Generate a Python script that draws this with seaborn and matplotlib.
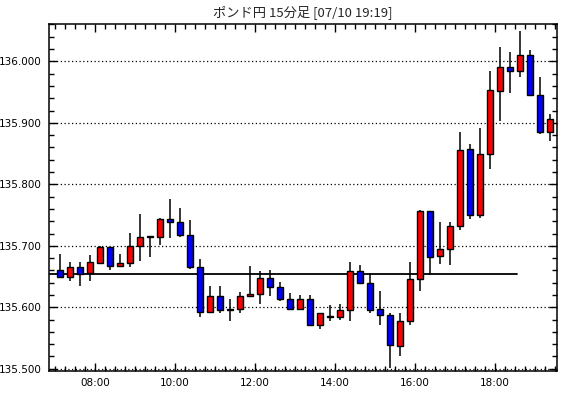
import numpy as np
import pandas as pd
import matplotlib
matplotlib.use("Agg")
import matplotlib.pyplot as plt
from matplotlib.ticker import MultipleLocator, FuncFormatter
import seaborn as sns

# 15-minute candles, 07:00 -> 19:15
opens = [135.661, 135.650, 135.665, 135.655, 135.672, 135.698, 135.667, 135.672, 135.699, 135.715,
         135.715, 135.743, 135.738, 135.717, 135.665, 135.593, 135.619, 135.596, 135.597, 135.619,
         135.621, 135.647, 135.633, 135.613, 135.598, 135.613, 135.572, 135.584, 135.585, 135.595,
         135.659, 135.639, 135.597, 135.587, 135.537, 135.577, 135.646, 135.756, 135.683, 135.694,
         135.733, 135.857, 135.750, 135.850, 135.952, 135.990, 135.985, 136.011, 135.946, 135.885]
highs = [135.687, 135.674, 135.674, 135.685, 135.699, 135.698, 135.687, 135.721, 135.752, 135.716,
         135.745, 135.776, 135.761, 135.742, 135.679, 135.635, 135.635, 135.614, 135.625, 135.667,
         135.659, 135.661, 135.641, 135.623, 135.620, 135.620, 135.591, 135.603, 135.605, 135.674,
         135.668, 135.654, 135.627, 135.590, 135.590, 135.674, 135.758, 135.757, 135.738, 135.738,
         135.885, 135.866, 135.892, 135.984, 136.023, 136.015, 136.049, 136.018, 135.974, 135.915]
lows = [135.647, 135.643, 135.635, 135.642, 135.671, 135.660, 135.665, 135.666, 135.676, 135.682,
        135.701, 135.713, 135.715, 135.662, 135.585, 135.593, 135.590, 135.577, 135.590, 135.616,
        135.606, 135.619, 135.611, 135.598, 135.597, 135.571, 135.564, 135.577, 135.580, 135.577,
        135.639, 135.590, 135.571, 135.501, 135.520, 135.572, 135.626, 135.652, 135.670, 135.668,
        135.725, 135.743, 135.746, 135.825, 135.903, 135.949, 135.974, 135.946, 135.882, 135.871]
closes = [135.650, 135.665, 135.654, 135.673, 135.698, 135.667, 135.672, 135.699, 135.715, 135.715,
          135.743, 135.738, 135.717, 135.665, 135.593, 135.619, 135.596, 135.597, 135.619, 135.621,
          135.647, 135.633, 135.613, 135.598, 135.613, 135.572, 135.590, 135.585, 135.595, 135.659,
          135.639, 135.596, 135.587, 135.538, 135.577, 135.646, 135.756, 135.681, 135.694, 135.732,
          135.855, 135.750, 135.850, 135.954, 135.990, 135.985, 136.011, 135.946, 135.885, 135.907]

ref_price = 135.654
ref_end = "18:30"
title = "ポンド円 15分足 [07/10 19:19]"

times = pd.date_range("2024-07-10 07:00", periods=len(opens), freq="15min")
df = pd.DataFrame({"time": times, "open": opens, "high": highs, "low": lows, "close": closes})
# hours as float, candle centred in its 15-minute slot
df["x"] = df["time"].dt.hour + df["time"].dt.minute / 60 + 0.125
df["up"] = df["close"] >= df["open"]

sns.set_style("ticks")
plt.rcParams["font.family"] = ["DejaVu Sans"]

fig = plt.figure(figsize=(5.7, 3.98), dpi=100)
ax = fig.add_axes([49 / 570, 27 / 398, 508 / 570, 347 / 398])

# reference line
h, m = map(int, ref_end.split(":"))
ref_df = pd.DataFrame({"x": [6.85, h + m / 60 + 0.05], "y": [ref_price, ref_price]})
sns.lineplot(data=ref_df, x="x", y="y", ax=ax, color="black", lw=1.3, zorder=2)

# wicks
ax.vlines(df["x"], df["low"], df["high"], color="black", lw=1.1, zorder=3)

# bodies
bottoms = np.minimum(df["open"], df["close"])
heights = np.maximum(np.abs(df["close"] - df["open"]), 0.0012)
colors = np.where(df["up"], "#ff0000", "#0000ff")
ax.bar(df["x"], heights, bottom=bottoms, width=0.155, color=colors,
       edgecolor="black", linewidth=1.0, zorder=4)

ax.set_xlim(6.85, 19.55)
ax.set_ylim(135.4964, 136.0607)

ax.yaxis.set_major_locator(MultipleLocator(0.1))
ax.yaxis.set_minor_locator(MultipleLocator(0.02))
ax.yaxis.set_major_formatter(FuncFormatter(lambda v, p: f"{v:.3f}"))
ax.xaxis.set_major_locator(MultipleLocator(2))
ax.xaxis.set_minor_locator(MultipleLocator(0.25))
ax.xaxis.set_major_formatter(FuncFormatter(lambda v, p: f"{int(round(v)):02d}:00"))

ax.grid(axis="y", which="major", color="black", linestyle=(0, (1, 2)), lw=0.9)
ax.tick_params(which="both", direction="in", top=True, right=True, colors="black",
               labelsize=7.5, width=1)
ax.tick_params(which="major", length=6, pad=5)
ax.tick_params(which="minor", length=3.5)
for s in ax.spines.values():
    s.set_color("black")
    s.set_linewidth(1.1)
ax.set_xlabel("")
ax.set_ylabel("")

fig.text(303 / 570, 1 - 12 / 398, title, ha="center", va="center", fontsize=9.5,
         family=["Noto Sans CJK JP", "DejaVu Sans"])

fig.savefig("out.png", dpi=100, facecolor="white")
